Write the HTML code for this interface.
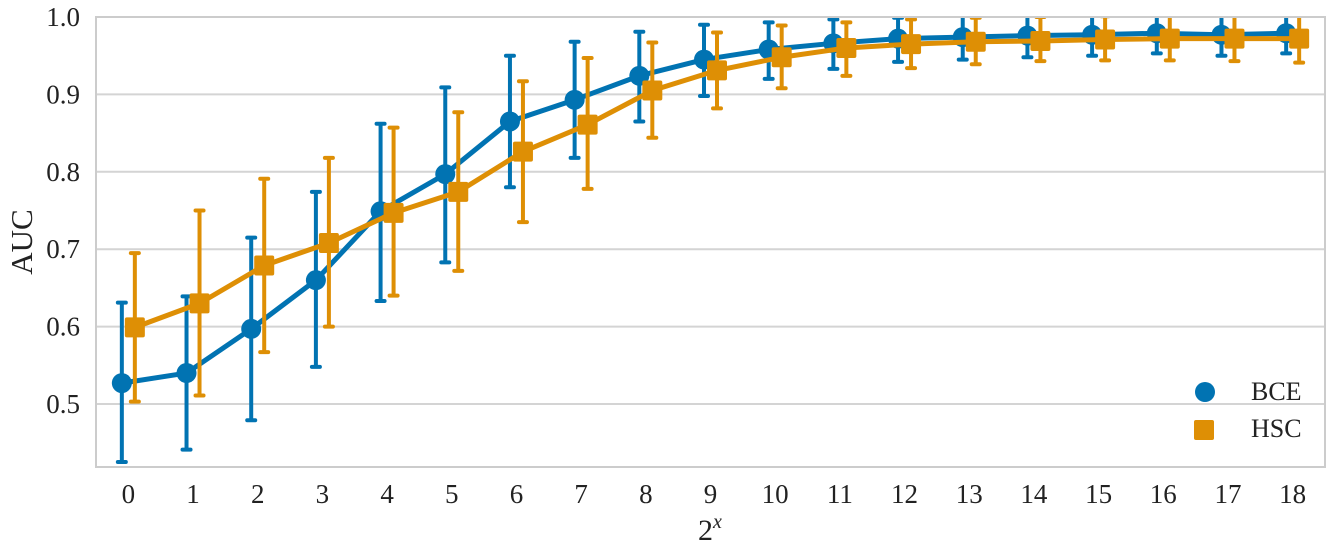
<!DOCTYPE html>
<html><head><meta charset="utf-8"><style>
html,body{margin:0;padding:0;background:#fff;}
svg{display:block;font-family:"Liberation Serif",serif;}
</style></head><body>
<svg id="chart" width="1330" height="552" viewBox="0 0 1330 552" xmlns="http://www.w3.org/2000/svg">
<defs><clipPath id="plotclip"><rect x="96" y="17" width="1229" height="450"/></clipPath></defs>
<g id="grid"></g>
<g id="series" clip-path="url(#plotclip)"></g>
<rect x="96" y="17" width="1229" height="450" fill="none" stroke="#cccccc" stroke-width="2"/>
<g id="ticks"></g>
<text transform="translate(32,242) rotate(-90)" text-anchor="middle" font-size="31" fill="#222">AUC</text>
<text x="710" y="540" text-anchor="middle" font-size="30" fill="#222">2<tspan font-style="italic" font-size="20" dy="-12">x</tspan></text>
<g>
<circle cx="1205" cy="392" r="10" fill="#0173b2"/>
<text x="1251" y="400" font-size="26" fill="#222">BCE</text>
<rect x="1194" y="420" width="20" height="20" rx="2" fill="#de8f05"/>
<text x="1251" y="437" font-size="26" fill="#222">HSC</text>
</g>
</svg>
<script>
const categories = ["0","1","2","3","4","5","6","7","8","9","10","11","12","13","14","15","16","17","18"];
const yTicks = [0.5,0.6,0.7,0.8,0.9,1.0];
const yTickLabels = ["0.5","0.6","0.7","0.8","0.9","1.0"];
const bceMean = [0.527,0.540,0.597,0.660,0.749,0.797,0.865,0.893,0.924,0.945,0.958,0.966,0.972,0.974,0.976,0.977,0.979,0.977,0.979];
const bceLow  = [0.425,0.441,0.479,0.548,0.633,0.683,0.780,0.818,0.865,0.898,0.920,0.933,0.942,0.945,0.948,0.950,0.953,0.950,0.953];
const bceHigh = [0.631,0.639,0.715,0.774,0.862,0.909,0.950,0.968,0.981,0.990,0.993,0.997,0.999,1.003,1.004,1.005,1.006,1.005,1.006];
const hscMean = [0.599,0.630,0.679,0.708,0.747,0.774,0.826,0.861,0.905,0.931,0.948,0.960,0.965,0.968,0.969,0.971,0.972,0.972,0.972];
const hscLow  = [0.503,0.511,0.567,0.600,0.640,0.672,0.735,0.778,0.844,0.882,0.908,0.924,0.934,0.939,0.943,0.944,0.944,0.943,0.941];
const hscHigh = [0.695,0.750,0.791,0.818,0.857,0.877,0.917,0.947,0.967,0.980,0.989,0.993,0.997,0.999,1.000,1.001,1.002,1.002,1.003];

const NS="http://www.w3.org/2000/svg";
const L=96,R=1325,T=17,B=467;
const yMin=0.4186,yMax=1.0;
const band=(R-L)/categories.length;
function xPos(i){return L+band*(i+0.5);}
function yPos(v){return B-(v-yMin)/(yMax-yMin)*(B-T);}
function mk(tag,attrs,parent){const e=document.createElementNS(NS,tag);for(const k in attrs)e.setAttribute(k,attrs[k]);parent.appendChild(e);return e;}
const grid=document.getElementById('grid'),ticks=document.getElementById('ticks'),series=document.getElementById('series');
yTicks.forEach((v,i)=>{
  const ln=mk('line',{x1:L,x2:R,y1:yPos(v),y2:yPos(v),stroke:'#d4d4d4','stroke-width':2},grid);
  
  
  const t=mk('text',{x:L-16,y:yPos(v)+9,'text-anchor':'end','font-size':27,fill:'#222'},ticks);
  t.textContent=yTickLabels[i];
  
  
});
categories.forEach((c,i)=>{
  const t=mk('text',{x:xPos(i),y:503,'text-anchor':'middle','font-size':27,fill:'#222'},ticks);
  t.textContent=c;
  
  
});
function drawSeries(name,mean,lo,hi,color,off,shape){
  const g=mk('g',{},series);
  
  
  mean.forEach((m,i)=>{
    const x=xPos(i)+off;
    const e=mk('line',{x1:x,x2:x,y1:yPos(lo[i]),y2:yPos(hi[i]),stroke:color,'stroke-width':4},g);
    
    
    [lo[i],hi[i]].forEach(v=>{
      const cap=mk('line',{x1:x-4,x2:x+4,y1:yPos(v),y2:yPos(v),stroke:color,'stroke-width':4,'stroke-linecap':'round'},g);
      
      
    });
  });
  const pts=mean.map((m,i)=>(xPos(i)+off)+','+yPos(m)).join(' ');
  const pl=mk('polyline',{points:pts,fill:'none',stroke:color,'stroke-width':5,'stroke-linejoin':'round'},g);
  
  
  mean.forEach((m,i)=>{
    const x=xPos(i)+off,y=yPos(m);
    let p;
    if(shape==='circle') p=mk('circle',{cx:x,cy:y,r:10,fill:color},g);
    else p=mk('rect',{x:x-10,y:y-10,width:20,height:20,rx:2,fill:color},g);
    
    
  });
}
drawSeries('bce',bceMean,bceLow,bceHigh,'#0173b2',-6.5,'circle');
drawSeries('hsc',hscMean,hscLow,hscHigh,'#de8f05',6.5,'square');
</script>
</body></html>
